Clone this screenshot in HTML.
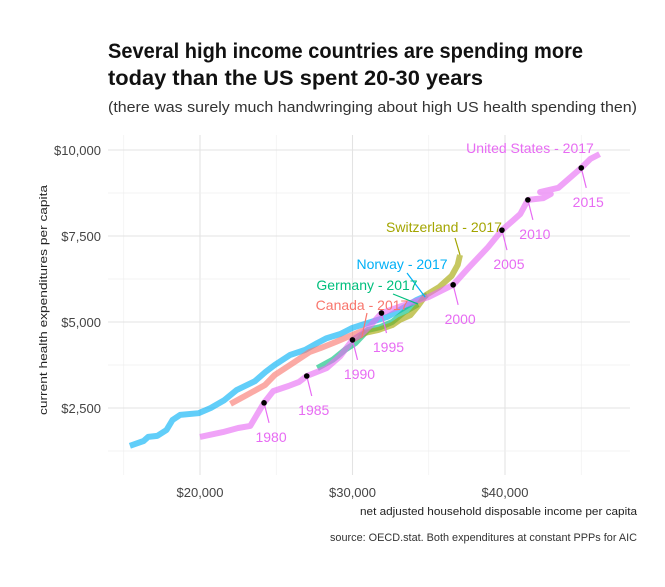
<!DOCTYPE html>
<html><head><meta charset="utf-8"><style>
body{margin:0;background:#fff;}
svg text{font-family:"Liberation Sans",sans-serif;}
</style></head><body>
<svg id="chart" width="665" height="582" xmlns="http://www.w3.org/2000/svg">
<rect width="665" height="582" fill="#fff"/>
<text x="108" y="58" font-size="21" font-weight="bold" fill="#111" textLength="475" lengthAdjust="spacingAndGlyphs">Several high income countries are spending more</text>
<text x="108" y="85" font-size="21" font-weight="bold" fill="#111" textLength="375" lengthAdjust="spacingAndGlyphs">today than the US spent 20-30 years</text>
<text x="108" y="112" font-size="15" fill="#333" textLength="529" lengthAdjust="spacingAndGlyphs">(there was surely much handwringing about high US health spending then)</text>
<g id="grid"></g>
<g id="series"></g>
<g id="annot"></g>
<g id="axes"></g>
<text transform="translate(47,300) rotate(-90)" text-anchor="middle" font-size="11" fill="#222" textLength="230" lengthAdjust="spacingAndGlyphs">current health expenditures per capita</text>
<text x="637" y="515" text-anchor="end" font-size="11" fill="#222" textLength="277" lengthAdjust="spacingAndGlyphs">net adjusted household disposable income per capita</text>
<text x="637" y="541" text-anchor="end" font-size="11" fill="#333" textLength="307" lengthAdjust="spacingAndGlyphs">source: OECD.stat.  Both expenditures at constant PPPs for AIC</text>
</svg>
<script>
// data in thousands of $
const xTicks=[20,30,40];
const xTickLabels=["$20,000","$30,000","$40,000"];
const yTicks=[2.5,5,7.5,10];
const yTickLabels=["$2,500","$5,000","$7,500","$10,000"];
const usX=[20.0,21.5,22.5,23.3,24.2,24.8,25.8,26.5,27.0,28.3,29.2,30.0,30.6,31.2,31.9,33.4,35.0,36.6,37.6,38.9,39.8,40.5,41.0,41.5,42.5,43.0,42.3,43.5,45.0,45.6,46.2];
const usY=[1.66,1.80,1.92,1.98,2.65,2.99,3.14,3.26,3.43,3.66,4.01,4.48,4.65,4.91,5.26,5.49,5.73,6.08,6.57,7.18,7.67,7.94,8.14,8.55,8.60,8.72,8.78,8.90,9.48,9.74,9.88];
const norX=[15.4,16.3,16.6,17.2,17.8,18.2,18.7,19.9,20.7,21.6,22.4,23.6,24.3,24.9,25.9,26.9,27.7,28.3,29.2,30.0,31.0,32.3,33.1,34.2,34.9];
const norY=[1.40,1.54,1.66,1.69,1.86,2.15,2.30,2.35,2.50,2.73,3.02,3.28,3.55,3.75,4.04,4.19,4.39,4.53,4.65,4.83,4.97,5.15,5.35,5.64,5.78];
const canX=[22.0,22.95,24.26,24.9,25.9,27.2,27.9,28.9,29.8,30.8];
const canY=[2.62,2.85,3.17,3.46,3.75,4.13,4.24,4.42,4.59,4.77];
const gerX=[27.7,28.7,29.5,30.2,31.0,31.8,32.6,33.4,34.3];
const gerY=[3.66,3.90,4.19,4.39,4.77,4.85,5.00,5.29,5.52];
const swiX=[30.0,30.8,31.7,32.6,33.1,33.8,34.3,34.8,35.7,36.5,36.9,37.05];
const swiY=[4.48,4.68,4.77,4.91,5.06,5.20,5.47,5.78,6.02,6.34,6.66,6.95];
const yearLabels=["1980","1985","1990","1995","2000","2005","2010","2015"];
const yearX=[24.2,27.0,30.0,31.9,36.6,39.8,41.5,45.0];
const yearY=[2.65,3.43,4.48,5.26,6.08,7.67,8.55,9.48];

const X=v=>200+(v-20)*15.25;
const Y=v=>150+(10-v)*34.4;
const NS="http://www.w3.org/2000/svg";
function mk(tag,attrs,parent){const e=document.createElementNS(NS,tag);for(const k in attrs)e.setAttribute(k,attrs[k]);parent.appendChild(e);return e;}
const grid=document.getElementById('grid'),series=document.getElementById('series'),annot=document.getElementById('annot'),axes=document.getElementById('axes');
const L=108,R=630,T=135,B=475;
for(let v=15;v<=45;v+=5){const l=mk('line',{x1:X(v),x2:X(v),y1:T,y2:B,stroke:v%10===0?'#e3e3e3':'#efefef','stroke-width':v%10===0?1.1:0.7},grid);

}
for(let v=1.25;v<=10;v+=1.25){const major=Math.abs(v/2.5-Math.round(v/2.5))<1e-6;const l=mk('line',{x1:L,x2:R,y1:Y(v),y2:Y(v),stroke:major?'#e3e3e3':'#efefef','stroke-width':major?1.1:0.7},grid);

}
xTicks.forEach((v,i)=>{const t=mk('text',{x:X(v),y:497,'text-anchor':'middle','font-size':13,fill:'#444'},axes);t.textContent=xTickLabels[i];

});
yTicks.forEach((v,i)=>{const t=mk('text',{x:101,y:Y(v)+5,'text-anchor':'end','font-size':13,fill:'#444'},axes);t.textContent=yTickLabels[i];

});
function line(xs,ys,color,name){const d=xs.map((x,i)=>(i?'L':'M')+X(x).toFixed(1)+','+Y(ys[i]).toFixed(1)).join(' ');
const p=mk('path',{d:d,fill:'none',stroke:color,'stroke-width':6,'stroke-opacity':0.62,'stroke-linejoin':'round','stroke-linecap':'butt'},series);

}
line(norX,norY,'#00B0F6','norway-line');
line(canX,canY,'#F8766D','canada-line');
line(gerX,gerY,'#00BF7D','germany-line');
line(swiX,swiY,'#A3A500','switzerland-line');
line(usX,usY,'#E76BF3','us-line');
const PINK='#E76BF3';
yearLabels.forEach((lab,i)=>{const px=X(yearX[i]),py=Y(yearY[i]);
const s=mk('line',{x1:px,y1:py,x2:px+5,y2:py+20,stroke:PINK,'stroke-width':1.2},annot);


const c=mk('circle',{cx:px,cy:py,r:2.8,fill:'#000'},annot);


const t=mk('text',{x:px+7,y:py+39,'text-anchor':'middle','font-size':14,fill:PINK},annot);t.textContent=lab;

});
function endLab(txt,x,y,color,lx1,ly1,lx2,ly2,name){
if(lx1!==null){const s=mk('line',{x1:lx1,y1:ly1,x2:lx2,y2:ly2,stroke:color,'stroke-width':1.2},annot);

}
const t=mk('text',{x:x,y:y,'text-anchor':'middle','font-size':14,fill:color},annot);t.textContent=txt;

}
endLab('United States - 2017',530,153,PINK,null,0,0,0,'us-end-label');
endLab('Switzerland - 2017',444,232,'#A3A500',455,238,X(37.05),Y(6.95),'switzerland-end-label');
endLab('Norway - 2017',402,269,'#00B0F6',407,273,X(34.9)-2,Y(5.78)+2,'norway-end-label');
endLab('Germany - 2017',367,290,'#00BF7D',393,294,X(34.3),Y(5.52),'germany-end-label');
endLab('Canada - 2017',362,310,'#F8766D',367,313,X(30.8)-3,Y(4.77)+8,'canada-end-label');
</script>
</body></html>
